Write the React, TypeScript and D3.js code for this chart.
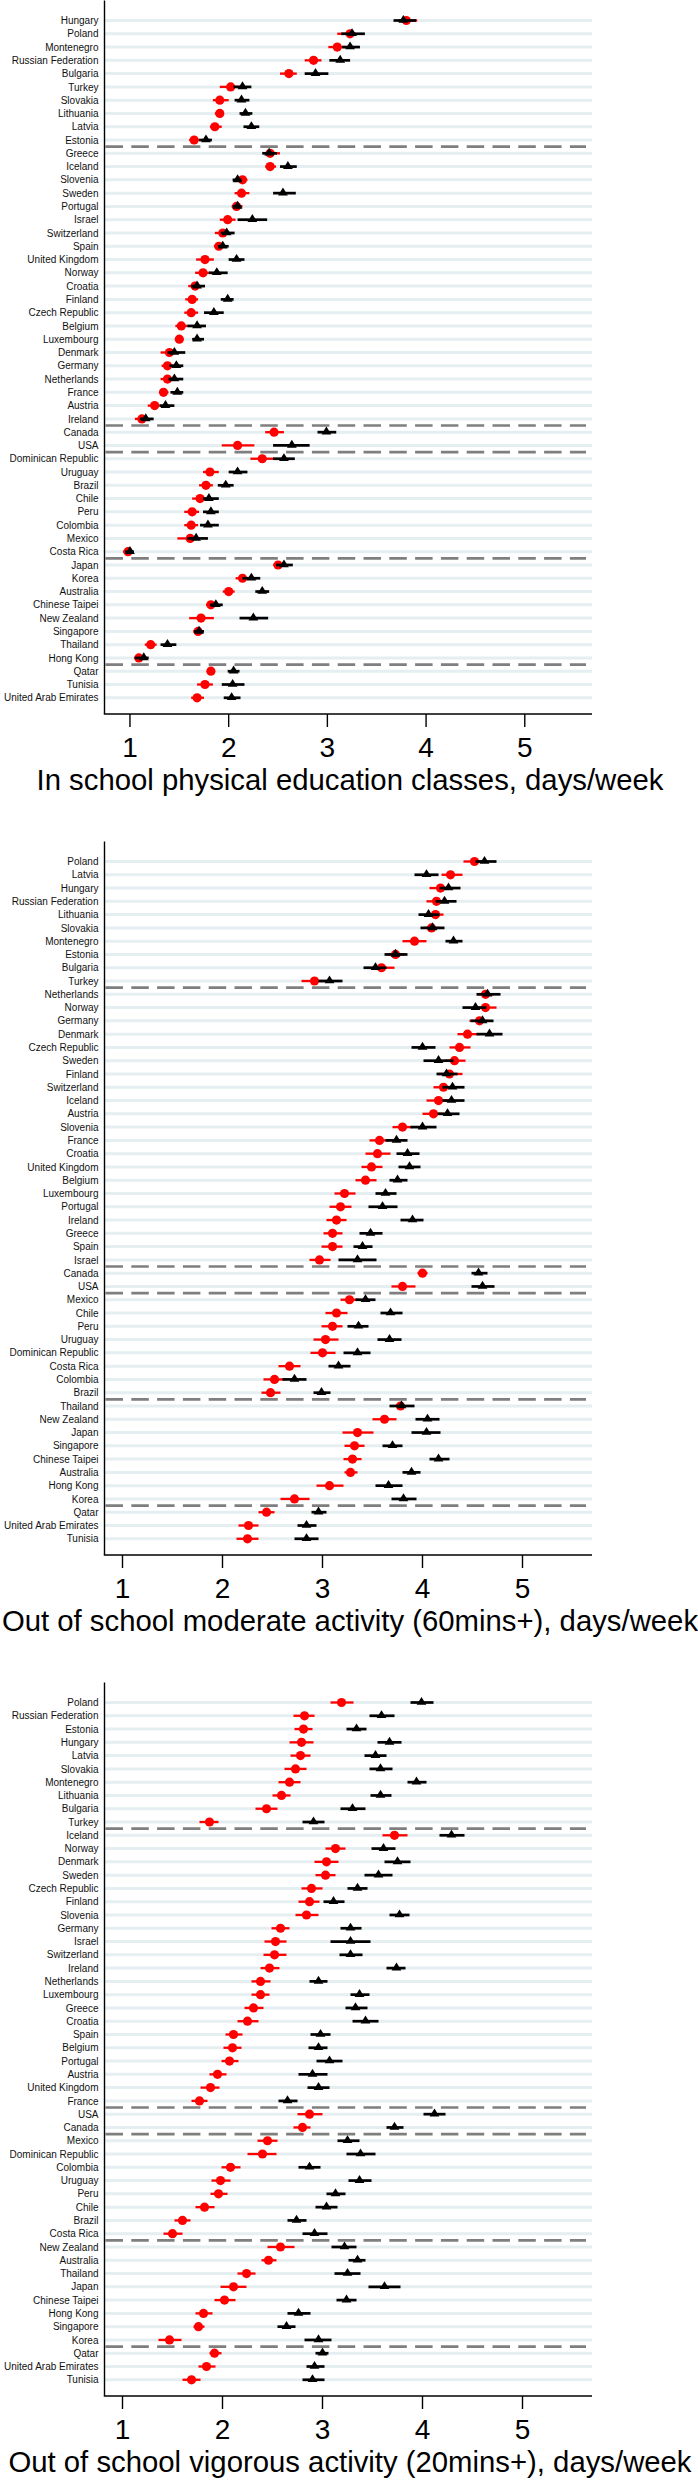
import React from "react";
import * as d3 from "d3";

// ---------- DATA ----------
const groupSizes = [10, 21, 2, 8, 8, 3];

// Panel 1: In school physical education classes
const p1Countries = ["Hungary","Poland","Montenegro","Russian Federation","Bulgaria","Turkey","Slovakia","Lithuania","Latvia","Estonia",
  "Greece","Iceland","Slovenia","Sweden","Portugal","Israel","Switzerland","Spain","United Kingdom","Norway","Croatia","Finland","Czech Republic","Belgium","Luxembourg","Denmark","Germany","Netherlands","France","Austria","Ireland",
  "Canada","USA",
  "Dominican Republic","Uruguay","Brazil","Chile","Peru","Colombia","Mexico","Costa Rica",
  "Japan","Korea","Australia","Chinese Taipei","New Zealand","Singapore","Thailand","Hong Kong",
  "Qatar","Tunisia","United Arab Emirates"];
// [estimate, lower, upper]
const p1Red = [[3.80,3.72,3.91],[3.23,3.10,3.29],[3.10,3.01,3.18],[2.86,2.77,2.94],[2.61,2.52,2.69],[2.02,1.91,2.12],[1.91,1.84,2.00],[1.91,1.86,1.95],[1.86,1.81,1.93],[1.65,1.60,1.70],
  [2.42,2.37,2.52],[2.42,2.37,2.48],[2.14,2.09,2.19],[2.13,2.06,2.21],[2.08,2.03,2.14],[1.99,1.91,2.07],[1.94,1.86,1.99],[1.90,1.85,1.94],[1.76,1.67,1.85],[1.74,1.66,1.81],[1.66,1.59,1.72],[1.63,1.56,1.69],[1.62,1.55,1.69],[1.52,1.46,1.58],[1.50,1.46,1.54],[1.40,1.31,1.47],[1.38,1.32,1.44],[1.38,1.31,1.44],[1.34,1.30,1.39],[1.25,1.18,1.30],[1.12,1.05,1.18],
  [2.46,2.37,2.56],[2.09,1.93,2.26],
  [2.34,2.22,2.46],[1.81,1.74,1.90],[1.77,1.70,1.84],[1.71,1.63,1.77],[1.63,1.55,1.70],[1.62,1.55,1.69],[1.61,1.48,1.69],[0.98,0.93,1.02],
  [2.50,2.45,2.57],[2.14,2.07,2.21],[2.00,1.94,2.06],[1.82,1.77,1.88],[1.72,1.60,1.85],[1.69,1.64,1.74],[1.21,1.15,1.27],[1.09,1.04,1.14],
  [1.82,1.78,1.86],[1.76,1.68,1.84],[1.68,1.62,1.75]];
const p1Black = [[3.77,3.67,3.90],[3.25,3.14,3.38],[3.23,3.15,3.33],[3.13,3.02,3.23],[2.88,2.77,3.01],[2.14,2.05,2.23],[2.13,2.06,2.21],[2.17,2.11,2.24],[2.23,2.15,2.31],[1.77,1.70,1.83],
  [2.41,2.34,2.49],[2.60,2.52,2.69],[2.09,2.04,2.13],[2.55,2.45,2.68],[2.09,2.04,2.13],[2.24,2.09,2.39],[1.98,1.92,2.06],[1.94,1.89,2.00],[2.08,2.00,2.16],[1.88,1.80,1.99],[1.68,1.62,1.76],[1.99,1.92,2.05],[1.85,1.75,1.95],[1.68,1.58,1.77],[1.68,1.63,1.75],[1.45,1.38,1.56],[1.47,1.40,1.54],[1.45,1.39,1.54],[1.48,1.41,1.54],[1.36,1.30,1.45],[1.16,1.10,1.24],
  [2.99,2.90,3.09],[2.64,2.45,2.82],
  [2.56,2.45,2.67],[2.09,2.00,2.19],[1.97,1.89,2.05],[1.80,1.74,1.90],[1.82,1.74,1.90],[1.79,1.71,1.90],[1.67,1.58,1.79],[1.00,0.95,1.04],
  [2.56,2.48,2.65],[2.23,2.14,2.32],[2.34,2.27,2.41],[1.87,1.81,1.94],[2.25,2.11,2.40],[1.70,1.65,1.75],[1.38,1.31,1.47],[1.14,1.05,1.19],
  [2.05,1.99,2.11],[2.04,1.93,2.16],[2.03,1.95,2.12]];

// Panel 2: Out of school moderate activity
const p2Countries = ["Poland","Latvia","Hungary","Russian Federation","Lithuania","Slovakia","Montenegro","Estonia","Bulgaria","Turkey",
  "Netherlands","Norway","Germany","Denmark","Czech Republic","Sweden","Finland","Switzerland","Iceland","Austria","Slovenia","France","Croatia","United Kingdom","Belgium","Luxembourg","Portugal","Ireland","Greece","Spain","Israel",
  "Canada","USA",
  "Mexico","Chile","Peru","Uruguay","Dominican Republic","Costa Rica","Colombia","Brazil",
  "Thailand","New Zealand","Japan","Singapore","Chinese Taipei","Australia","Hong Kong","Korea",
  "Qatar","United Arab Emirates","Tunisia"];
const p2Red = [[4.52,4.41,4.62],[4.28,4.19,4.40],[4.18,4.07,4.26],[4.14,4.04,4.24],[4.13,4.04,4.21],[4.09,4.02,4.17],[3.92,3.80,4.04],[3.73,3.64,3.82],[3.59,3.50,3.72],[2.92,2.79,3.04],
  [4.63,4.55,4.71],[4.63,4.53,4.74],[4.57,4.47,4.66],[4.45,4.35,4.56],[4.37,4.27,4.48],[4.32,4.22,4.43],[4.27,4.16,4.40],[4.21,4.11,4.32],[4.16,4.04,4.26],[4.11,4.00,4.21],[3.80,3.70,3.90],[3.57,3.47,3.67],[3.55,3.43,3.68],[3.49,3.39,3.60],[3.43,3.33,3.54],[3.22,3.12,3.33],[3.18,3.07,3.29],[3.14,3.04,3.24],[3.10,3.01,3.20],[3.10,2.99,3.20],[2.97,2.87,3.08],
  [4.00,3.95,4.05],[3.80,3.69,3.93],
  [3.27,3.18,3.36],[3.14,3.03,3.25],[3.10,2.99,3.20],[3.03,2.91,3.16],[3.00,2.88,3.13],[2.67,2.56,2.78],[2.52,2.41,2.63],[2.48,2.39,2.58],
  [3.78,3.73,3.83],[3.62,3.50,3.74],[3.35,3.20,3.51],[3.32,3.22,3.42],[3.30,3.21,3.39],[3.28,3.22,3.35],[3.07,2.94,3.21],[2.72,2.58,2.87],
  [2.44,2.36,2.52],[2.26,2.16,2.36],[2.25,2.14,2.36]];
const p2Black = [[4.62,4.53,4.74],[4.04,3.92,4.16],[4.26,4.17,4.38],[4.22,4.13,4.34],[4.06,3.96,4.17],[4.10,3.98,4.22],[4.31,4.23,4.40],[3.73,3.62,3.85],[3.53,3.41,3.64],[3.07,2.96,3.20],
  [4.65,4.54,4.78],[4.53,4.40,4.64],[4.60,4.48,4.71],[4.67,4.54,4.80],[4.00,3.89,4.13],[4.16,4.01,4.31],[4.24,4.14,4.35],[4.30,4.20,4.42],[4.29,4.20,4.42],[4.25,4.15,4.37],[4.00,3.88,4.14],[3.74,3.63,3.85],[3.85,3.74,3.97],[3.87,3.76,3.98],[3.75,3.67,3.85],[3.63,3.53,3.74],[3.60,3.46,3.75],[3.90,3.78,4.01],[3.48,3.37,3.60],[3.40,3.31,3.50],[3.35,3.16,3.54],
  [4.56,4.49,4.65],[4.60,4.49,4.72],
  [3.43,3.33,3.53],[3.68,3.58,3.80],[3.36,3.25,3.46],[3.67,3.55,3.79],[3.35,3.21,3.48],[3.16,3.06,3.28],[2.72,2.60,2.84],[2.99,2.91,3.08],
  [3.79,3.67,3.92],[4.05,3.93,4.17],[4.04,3.89,4.18],[3.70,3.60,3.80],[4.16,4.07,4.27],[3.89,3.80,3.98],[3.66,3.53,3.80],[3.81,3.69,3.94],
  [2.96,2.89,3.04],[2.84,2.75,2.94],[2.84,2.72,2.96]];

// Panel 3: Out of school vigorous activity
const p3Countries = ["Poland","Russian Federation","Estonia","Hungary","Latvia","Slovakia","Montenegro","Lithuania","Bulgaria","Turkey",
  "Iceland","Norway","Denmark","Sweden","Czech Republic","Finland","Slovenia","Germany","Israel","Switzerland","Ireland","Netherlands","Luxembourg","Greece","Croatia","Spain","Belgium","Portugal","Austria","United Kingdom","France",
  "USA","Canada",
  "Mexico","Dominican Republic","Colombia","Uruguay","Peru","Chile","Brazil","Costa Rica",
  "New Zealand","Australia","Thailand","Japan","Chinese Taipei","Hong Kong","Singapore","Korea",
  "Qatar","United Arab Emirates","Tunisia"];
const p3Red = [[3.19,3.08,3.31],[2.82,2.71,2.92],[2.81,2.72,2.90],[2.79,2.67,2.91],[2.78,2.68,2.88],[2.73,2.62,2.84],[2.67,2.56,2.78],[2.59,2.50,2.68],[2.44,2.33,2.55],[1.87,1.77,1.96],
  [3.72,3.60,3.85],[3.13,3.03,3.23],[3.04,2.92,3.16],[3.03,2.93,3.13],[2.89,2.79,3.00],[2.87,2.76,2.97],[2.84,2.73,2.96],[2.58,2.49,2.67],[2.53,2.42,2.64],[2.52,2.41,2.64],[2.47,2.38,2.57],[2.38,2.29,2.48],[2.38,2.29,2.47],[2.31,2.22,2.41],[2.25,2.15,2.36],[2.11,2.03,2.20],[2.10,2.01,2.19],[2.07,1.99,2.16],[1.95,1.87,2.04],[1.88,1.78,1.97],[1.77,1.69,1.85],
  [2.87,2.75,3.00],[2.80,2.71,2.88],
  [2.45,2.35,2.55],[2.40,2.25,2.54],[2.08,1.99,2.18],[1.98,1.89,2.08],[1.96,1.88,2.05],[1.82,1.73,1.92],[1.60,1.52,1.68],[1.50,1.41,1.60],
  [2.58,2.45,2.72],[2.46,2.39,2.54],[2.24,2.15,2.33],[2.11,1.98,2.24],[2.02,1.92,2.13],[1.81,1.73,1.90],[1.76,1.71,1.82],[1.47,1.36,1.59],
  [1.92,1.87,1.99],[1.84,1.76,1.93],[1.69,1.60,1.78]];
const p3Black = [[3.99,3.88,4.11],[3.59,3.47,3.72],[3.34,3.24,3.44],[3.67,3.55,3.79],[3.53,3.42,3.64],[3.58,3.47,3.70],[3.94,3.85,4.04],[3.58,3.48,3.69],[3.30,3.18,3.43],[2.91,2.80,3.02],
  [4.29,4.17,4.42],[3.61,3.49,3.73],[3.75,3.62,3.88],[3.56,3.42,3.70],[3.35,3.25,3.45],[3.11,3.01,3.22],[3.77,3.67,3.87],[3.28,3.18,3.39],[3.28,3.08,3.48],[3.28,3.17,3.40],[3.74,3.64,3.83],[2.96,2.87,3.05],[3.37,3.28,3.47],[3.33,3.23,3.45],[3.43,3.30,3.56],[2.98,2.88,3.08],[2.96,2.86,3.05],[3.07,2.94,3.20],[2.90,2.76,3.05],[2.96,2.85,3.07],[2.65,2.56,2.75],
  [4.12,4.01,4.23],[3.72,3.64,3.81],
  [3.25,3.15,3.37],[3.38,3.24,3.53],[2.87,2.76,2.98],[3.37,3.26,3.49],[3.13,3.04,3.23],[3.04,2.93,3.15],[2.74,2.65,2.84],[2.92,2.80,3.05],
  [3.22,3.09,3.34],[3.35,3.26,3.43],[3.25,3.12,3.38],[3.62,3.46,3.78],[3.24,3.14,3.34],[2.76,2.65,2.88],[2.64,2.55,2.73],[2.96,2.82,3.09],
  [3.00,2.93,3.06],[2.92,2.84,3.02],[2.90,2.80,3.02]];

const xTicks = [1, 2, 3, 4, 5];
const titles = [
  "In school physical education classes, days/week",
  "Out of school moderate activity (60mins+), days/week",
  "Out of school vigorous activity (20mins+), days/week",
];
const xDomains = [[0.742, 5.681], [0.82, 5.695], [0.82, 5.695]];

// ---------- LAYOUT ----------
const W = 698, H = 2481;
const AX0 = 104.5, AX1 = 592;
const panelOffsets = [0, 841, 1682];
const ROW0 = 20.5, ROWSTEP = 13.28;
const AXIS_BOTTOM = 714;
const FONT = "'Liberation Sans', Arial, Helvetica, sans-serif";

type Triple = number[];

function Panel({ countries, red, black, title, domain, offset }:
  { countries: string[]; red: Triple[]; black: Triple[]; title: string; domain: number[]; offset: number }) {
  const x = d3.scaleLinear().domain(domain).range([AX0, AX1]);
  const y = d3.scaleLinear().domain([0, countries.length - 1]).range([ROW0, ROW0 + (countries.length - 1) * ROWSTEP]);
  const seps: number[] = [];
  let acc = 0;
  groupSizes.slice(0, -1).forEach((g) => { acc += g; seps.push(acc - 0.5); });
  const tri = (cx: number, cy: number) => {
    const p = d3.path();
    p.moveTo(cx, cy - 5.6);
    p.lineTo(cx + 4.9, cy + 2.3);
    p.lineTo(cx - 4.9, cy + 2.3);
    p.closePath();
    return p.toString();
  };
  return (
    <g transform={`translate(0,${offset})`}>
      {countries.map((c, i) => (
        <line key={"g" + i} x1={AX0} x2={AX1} y1={y(i)} y2={y(i)} stroke="#e5eef1" strokeWidth={3} />
      ))}
      {seps.map((s, i) => (
        <line key={"s" + i} x1={AX0 + 1} x2={586} y1={y(s)} y2={y(s)} stroke="#7f7f7f" strokeWidth={2.6} strokeDasharray="17.5 8.3" />
      ))}
      {countries.map((c, i) => (
        <text key={"t" + i} x={98.5} y={y(i)} dy="0.36em" textAnchor="end" fontSize={10} fontFamily={FONT} fill="#111">{c}</text>
      ))}
      {red.map((d, i) => (
        <g key={"r" + i}>
          <line x1={x(d[1])} x2={x(d[2])} y1={y(i)} y2={y(i)} stroke="#ff0000" strokeWidth={2.3} />
          <circle cx={x(d[0])} cy={y(i)} r={4.6} fill="#ff0000" />
        </g>
      ))}
      {black.map((d, i) => (
        <g key={"b" + i}>
          <line x1={x(d[1])} x2={x(d[2])} y1={y(i)} y2={y(i)} stroke="#000" strokeWidth={2.7} />
          <path d={tri(x(d[0]), y(i))} fill="#000" />
        </g>
      ))}
      <line x1={AX0} x2={AX0} y1={0.5} y2={AXIS_BOTTOM} stroke="#000" strokeWidth={1.4} />
      <line x1={AX0 - 0.7} x2={AX1} y1={AXIS_BOTTOM} y2={AXIS_BOTTOM} stroke="#000" strokeWidth={1.4} />
      {xTicks.map((t) => (
        <g key={"x" + t}>
          <line x1={x(t)} x2={x(t)} y1={AXIS_BOTTOM} y2={AXIS_BOTTOM + 13} stroke="#000" strokeWidth={1.4} />
          <text x={x(t)} y={756.5} textAnchor="middle" fontSize={28} fontFamily={FONT} fill="#000">{t}</text>
        </g>
      ))}
      <text x={350} y={790} textAnchor="middle" fontSize={29.3} fontFamily={FONT} fill="#000">{title}</text>
    </g>
  );
}

export default function App() {
  const panels = [
    { countries: p1Countries, red: p1Red, black: p1Black },
    { countries: p2Countries, red: p2Red, black: p2Black },
    { countries: p3Countries, red: p3Red, black: p3Black },
  ];
  return (
    <div style={{ position: "absolute", left: 0, top: 0 }}>
      <svg width={W} height={H} viewBox={`0 0 ${W} ${H}`} style={{ display: "block", background: "#fff" }}>
        <rect width={W} height={H} fill="#fff" />
        {panels.map((p, i) => (
          <Panel key={i} countries={p.countries} red={p.red} black={p.black} title={titles[i]} domain={xDomains[i]} offset={panelOffsets[i]} />
        ))}
      </svg>
    </div>
  );
}
